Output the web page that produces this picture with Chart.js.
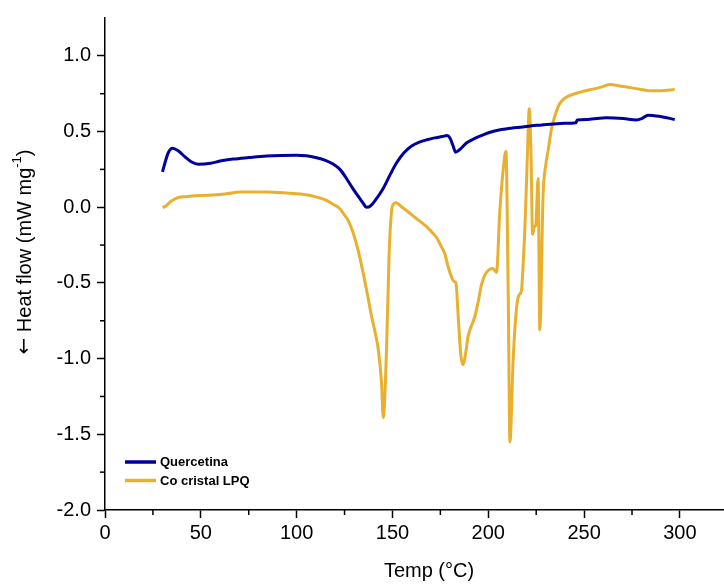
<!DOCTYPE html>
<html>
	<head>
		<meta charset="UTF-8">
		<title>DSC Quercetina</title>
		<script src="https://cdn.jsdelivr.net/npm/chart.js"></script>
		<style>
		   *{padding: 0; margin: 0;}
		   body{background: #fff;}
		   #box{width: 724px; height: 584px;}
		</style>
	</head>
	<body>
	<div id="box">
	   <canvas id="myChart" width="724" height="584"></canvas>
	</div>
	<script>
	// Quercetina (blue)
	const tempQ = [30, 31, 33, 35.3, 38, 42, 45, 48.7, 55, 60, 66.8, 75, 84.3, 92, 100, 105, 110.4, 115, 119, 122.6, 126, 129, 132, 134.5, 136.5, 138.5, 141, 145, 149, 152, 156, 160, 164, 168, 172, 176, 178.5, 180, 181.5, 183, 185, 188.6, 193, 197.3, 201, 205.7, 212, 218, 222, 228, 234, 240, 245.7, 246.4, 252, 261.7, 270.4, 277.3, 280, 283.4, 289.5, 297.3];
	const heatQ = [0.234, 0.28, 0.36, 0.39, 0.375, 0.33, 0.30, 0.284, 0.29, 0.305, 0.318, 0.328, 0.338, 0.342, 0.343, 0.340, 0.327, 0.31, 0.286, 0.25, 0.19, 0.13, 0.075, 0.03, 0.0, 0.008, 0.045, 0.12, 0.22, 0.29, 0.36, 0.405, 0.43, 0.446, 0.458, 0.467, 0.474, 0.458, 0.41, 0.364, 0.38, 0.424, 0.455, 0.478, 0.495, 0.51, 0.522, 0.53, 0.537, 0.543, 0.55, 0.554, 0.558, 0.576, 0.58, 0.591, 0.586, 0.576, 0.585, 0.608, 0.60, 0.58];

	// Co cristal LPQ (gold)
	const tempL = [30.1, 32, 34, 37.4, 42, 49.6, 58.2, 64, 70.4, 77, 84.3, 90, 96.5, 102, 107, 111, 115.6, 119, 122.6, 124.3, 127, 129.5, 132, 134.8, 137, 139.1, 141, 142.6, 144.3, 145.2, 146.9, 148.3, 149.5, 150.5, 151.8, 155, 159.1, 163, 167.8, 171, 173, 175.5, 177.4, 179, 180.8, 182, 183.1, 184.3, 185.7, 186.9, 188, 189.5, 191, 193, 194.8, 196.5, 198.5, 200.8, 202.5, 204.3, 206, 207.8, 209.2, 210.4, 211.3, 213, 214.8, 216, 217.3, 218.3, 219.1, 220.3, 221.4, 222.3, 223.1, 224, 224.8, 226, 226.9, 228.6, 230, 231.3, 233, 234.7, 236.5, 238.2, 240.5, 243.4, 248, 253, 258, 263.4, 268, 273.9, 279, 284.3, 290, 297.3];
	const heatL = [-0.002, 0.01, 0.035, 0.06, 0.07, 0.078, 0.082, 0.09, 0.1, 0.101, 0.1, 0.098, 0.093, 0.087, 0.078, 0.065, 0.045, 0.02, -0.01, -0.04, -0.09, -0.17, -0.28, -0.44, -0.58, -0.72, -0.83, -0.94, -1.16, -1.39, -0.94, -0.29, -0.03, 0.02, 0.03, 0.0, -0.04, -0.08, -0.128, -0.17, -0.2, -0.26, -0.31, -0.39, -0.46, -0.49, -0.5, -0.72, -0.98, -1.04, -0.98, -0.85, -0.79, -0.72, -0.62, -0.51, -0.44, -0.41, -0.405, -0.43, -0.03, 0.25, 0.37, -0.57, -1.55, -1.0, -0.66, -0.58, -0.55, -0.35, -0.14, 0.3, 0.65, 0.35, -0.18, -0.13, -0.117, 0.19, -0.81, 0.08, 0.28, 0.38, 0.52, 0.6, 0.665, 0.7, 0.725, 0.742, 0.76, 0.776, 0.79, 0.81, 0.803, 0.79, 0.78, 0.77, 0.77, 0.777];

	const labelQ = "Quercetina";
	const labelL = "Co cristal LPQ";
	const xMajor = [0, 50, 100, 150, 200, 250, 300];
	const yMajor = [-2.0, -1.5, -1.0, -0.5, 0.0, 0.5, 1.0];

	const blue = "rgb(0,0,158)";
	const gold = "rgb(233,176,48)";
	const fontFam = "'Liberation Sans', Arial, sans-serif";

	function pts(xs, ys){
		let arr = [];
		for(let i=0;i<xs.length;i++){
			arr.push({x: xs[i], y: ys[i]});
		}
		return arr;
	}

	// minor ticks, legend and axis titles
	const extras = {
		id: "extras",
		afterDraw(chart){
			const ctx = chart.ctx;
			const xs = chart.scales.x, ys = chart.scales.y;
			ctx.save();
			ctx.strokeStyle = "#000";
			ctx.lineWidth = 1.5;
			// minor ticks
			for(let i=0;i<xMajor.length-1;i++){
				const px = xs.getPixelForValue((xMajor[i]+xMajor[i+1])/2);
				ctx.beginPath(); ctx.moveTo(px, xs.top); ctx.lineTo(px, xs.top+5); ctx.stroke();
			}
			for(let i=0;i<yMajor.length-1;i++){
				const py = ys.getPixelForValue((yMajor[i]+yMajor[i+1])/2);
				ctx.beginPath(); ctx.moveTo(ys.right, py); ctx.lineTo(ys.right-5, py); ctx.stroke();
			}
			// legend
			const items = chart.data.datasets;
			let ly = 462;
			ctx.font = "bold 13px " + fontFam;
			ctx.textBaseline = "middle";
			ctx.fillStyle = "#000";
			items.forEach(function(ds){
				ctx.strokeStyle = ds.borderColor;
				ctx.lineWidth = 3.5;
				ctx.beginPath(); ctx.moveTo(125, ly); ctx.lineTo(156, ly); ctx.stroke();
				ctx.fillText(ds.label, 160, ly+0.5);
				ly += 18.5;
			});
			// x title
			ctx.font = "20px " + fontFam;
			ctx.textAlign = "center";
			ctx.fillText("Temp (\u00B0C)", 429, 571);
			// y title with arrow and superscript
			ctx.translate(25, 252);
			ctx.rotate(-Math.PI/2);
			const arw = "\u2190", a = " Heat flow (mW mg", s = "-1", b = ")";
			ctx.font = "20px 'DejaVu Sans'";
			const w0 = ctx.measureText(arw).width;
			ctx.font = "20px " + fontFam;
			const wa = ctx.measureText(a).width, wb = ctx.measureText(b).width;
			ctx.font = "13px " + fontFam;
			const ws = ctx.measureText(s).width;
			let x0 = -(w0+wa+ws+wb)/2;
			ctx.textAlign = "left";
			ctx.font = "20px 'DejaVu Sans'";
			ctx.fillText(arw, x0, 0);
			ctx.font = "20px " + fontFam;
			ctx.fillText(a, x0+w0, 0);
			ctx.font = "13px " + fontFam;
			ctx.fillText(s, x0+w0+wa, -8);
			ctx.font = "20px " + fontFam;
			ctx.fillText(b, x0+w0+wa+ws, 0);
			ctx.restore();
		}
	};

	const ctx = document.getElementById("myChart");
	new Chart(ctx, {
		type: "line",
		data: {
			datasets: [{
				label: labelQ,
				data: pts(tempQ, heatQ),
				borderColor: blue,
				borderWidth: 3,
				pointRadius: 0,
				cubicInterpolationMode: "monotone",
				fill: false
			},{
				label: labelL,
				data: pts(tempL, heatL),
				borderColor: gold,
				borderWidth: 3,
				pointRadius: 0,
				cubicInterpolationMode: "monotone",
				fill: false
			}]
		},
		options: {
			responsive: false,
			animation: false,
			devicePixelRatio: 1,
			layout: {padding: {top: 10, right: 0, bottom: 0, left: 0}},
			plugins: {legend: {display: false}, tooltip: {enabled: false}},
			scales: {
				x: {
					type: "linear",
					min: 0, max: 323,
					afterFit: function(scale){ scale.height = 74; },
					afterBuildTicks: function(scale){ scale.ticks = xMajor.map(v => ({value: v})); },
					ticks: {font: {size: 20, family: fontFam}, color: "#000", padding: 3, maxRotation: 0,
						callback: v => String(v)},
					grid: {drawOnChartArea: false, drawTicks: true, tickLength: 8, tickColor: "#000", tickWidth: 1.5},
					border: {display: true, color: "#000", width: 1.5}
				},
				y: {
					min: -2, max: 1.25,
					afterFit: function(scale){ scale.width = 105; },
					afterBuildTicks: function(scale){ scale.ticks = yMajor.map(v => ({value: v})); },
					ticks: {font: {size: 20, family: fontFam}, color: "#000", padding: 6,
						callback: v => Number(v).toFixed(1)},
					grid: {drawOnChartArea: false, drawTicks: true, tickLength: 8, tickColor: "#000", tickWidth: 1.5},
					border: {display: true, color: "#000", width: 1.5}
				}
			}
		},
		plugins: [extras]
	});
	</script>
	</body>
</html>
